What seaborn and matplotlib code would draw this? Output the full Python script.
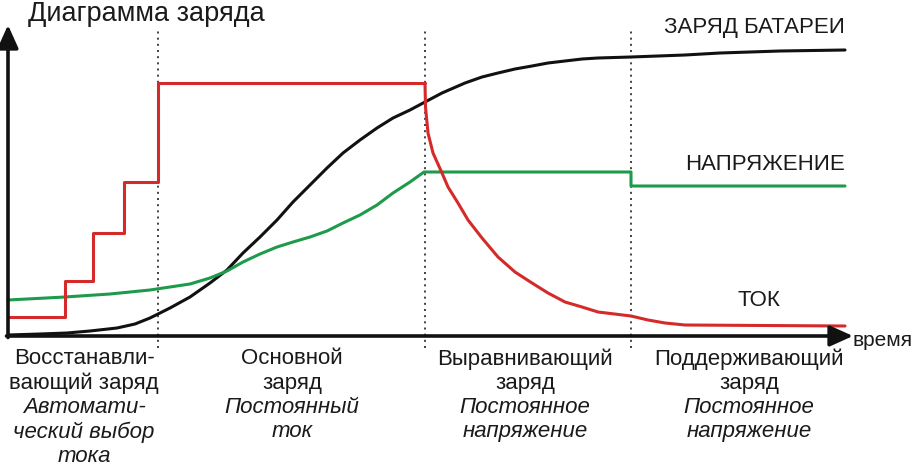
import matplotlib
matplotlib.use("Agg")
import matplotlib.pyplot as plt
import seaborn as sns
import pandas as pd

sns.set_theme(style="white")
plt.rcParams['font.family'] = ['Liberation Sans', 'DejaVu Sans']

# ---------------- data (time, level in arbitrary units) ----------------
charge_t = [0, 32, 59, 82, 109, 127, 142, 162, 182, 202, 219, 235, 252, 269,
            285, 302, 319, 335, 352, 369, 385, 402, 417, 434, 457, 474, 490,
            507, 524, 540, 557, 574, 590, 623, 677, 712, 772, 837]
charge_v = [1, 2, 3, 5, 8, 12, 18, 28, 39, 53, 66, 83, 99, 116,
            134, 151, 168, 183, 196, 208, 218, 226, 234, 243, 253, 259, 263,
            267, 270, 273, 275, 277, 278, 279, 281, 283, 285, 286]

voltage_t = [0, 57, 102, 142, 162, 182, 202, 219, 235, 252, 269, 285, 302,
             319, 335, 352, 369, 385, 402, 416, 623, 623, 837]
voltage_v = [36, 39, 42, 46, 49, 52, 58, 65, 74, 82, 89, 94, 99,
             105, 113, 121, 131, 143, 154, 164, 164, 150, 150]

current_step_t = [0, 57, 85, 116, 150, 417]
current_step_v = [19, 55, 103, 154, 253, 253]

current_decay_t = [417, 417.5, 420, 425, 434, 440, 450, 460, 474, 490, 507,
                   524, 540, 557, 574, 590, 623, 640, 657, 677, 837]
current_decay_v = [253, 229, 203, 183, 163, 149, 133, 116, 98, 79, 64,
                   53, 43, 34, 29, 24, 20, 16, 13, 11, 10]

phase_bounds = [150, 417, 623]
phase_centers = [76, 284, 517, 741]
phase_names = [["Восстанавли-", "вающий заряд"],
               ["Основной", "заряд"],
               ["Выравнивающий", "заряд"],
               ["Поддерживающий", "заряд"]]
phase_modes = [["Автомати-", "ческий выбор", "тока"],
               ["Постоянный", "ток"],
               ["Постоянное", "напряжение"],
               ["Постоянное", "напряжение"]]

RED = "#d42a2a"
GREEN = "#1e9a4c"
BLACK = "#111111"

fig = plt.figure(figsize=(9.14, 4.67), dpi=100)
ax = fig.add_axes([0, 0, 1, 1])

# phase dividers
for b in phase_bounds:
    ax.plot([b, b], [-12, 306], color="#222222", lw=1.2,
            linestyle=(0, (1.2, 2.5)), zorder=1)

# curves
df_c = pd.DataFrame({"t": charge_t, "v": charge_v})
sns.lineplot(data=df_c, x="t", y="v", ax=ax, color=BLACK, lw=2.2,
             sort=False, estimator=None, zorder=3)
df_u = pd.DataFrame({"t": voltage_t, "v": voltage_v})
sns.lineplot(data=df_u, x="t", y="v", ax=ax, color=GREEN, lw=2.2,
             sort=False, estimator=None, zorder=3)
df_s = pd.DataFrame({"t": current_step_t, "v": current_step_v})
sns.lineplot(data=df_s, x="t", y="v", ax=ax, color=RED, lw=2.2,
             sort=False, estimator=None, drawstyle="steps-post", zorder=3)
df_d = pd.DataFrame({"t": current_decay_t, "v": current_decay_v})
sns.lineplot(data=df_d, x="t", y="v", ax=ax, color=RED, lw=2.2,
             sort=False, estimator=None, zorder=3)

ax.set_xlim(-8, 906)
ax.set_ylim(-131, 336)
ax.axis("off")

# axes with arrows
ax.annotate("", xy=(0, 311), xytext=(0, -1.5),
            arrowprops=dict(arrowstyle="-|>,head_length=1.0,head_width=0.45",
                            lw=2.6, color=BLACK, mutation_scale=14,
                            shrinkA=0, shrinkB=0), zorder=4)
ax.annotate("", xy=(845, 0), xytext=(-1.5, 0),
            arrowprops=dict(arrowstyle="-|>,head_length=1.0,head_width=0.45",
                            lw=2.6, color=BLACK, mutation_scale=14,
                            shrinkA=0, shrinkB=0), zorder=4)

# texts
ax.text(20, 322, "Диаграмма заряда", fontsize=19.5, ha="left", va="center",
        color="#1a1a1a")
ax.text(837, 308, "ЗАРЯД БАТАРЕИ", fontsize=16, ha="right", va="center",
        color="#1a1a1a")
ax.text(837, 171, "НАПРЯЖЕНИЕ", fontsize=16, ha="right", va="center",
        color="#1a1a1a")
ax.text(751, 35, "ТОК", fontsize=16, ha="center", va="center",
        color="#1a1a1a")
ax.text(844, -5, "время", fontsize=15, ha="left", va="center",
        color="#1a1a1a")

line_y0 = -23
line_dy = 24.3
for cx, names, modes in zip(phase_centers, phase_names, phase_modes):
    i = 0
    for s in names:
        ax.text(cx, line_y0 - i * line_dy, s, fontsize=16, ha="center",
                va="center", color="#1a1a1a")
        i += 1
    for s in modes:
        ax.text(cx, line_y0 - i * line_dy, s, fontsize=16, ha="center",
                va="center", style="italic", color="#1a1a1a")
        i += 1

fig.savefig("out.png", dpi=100)
